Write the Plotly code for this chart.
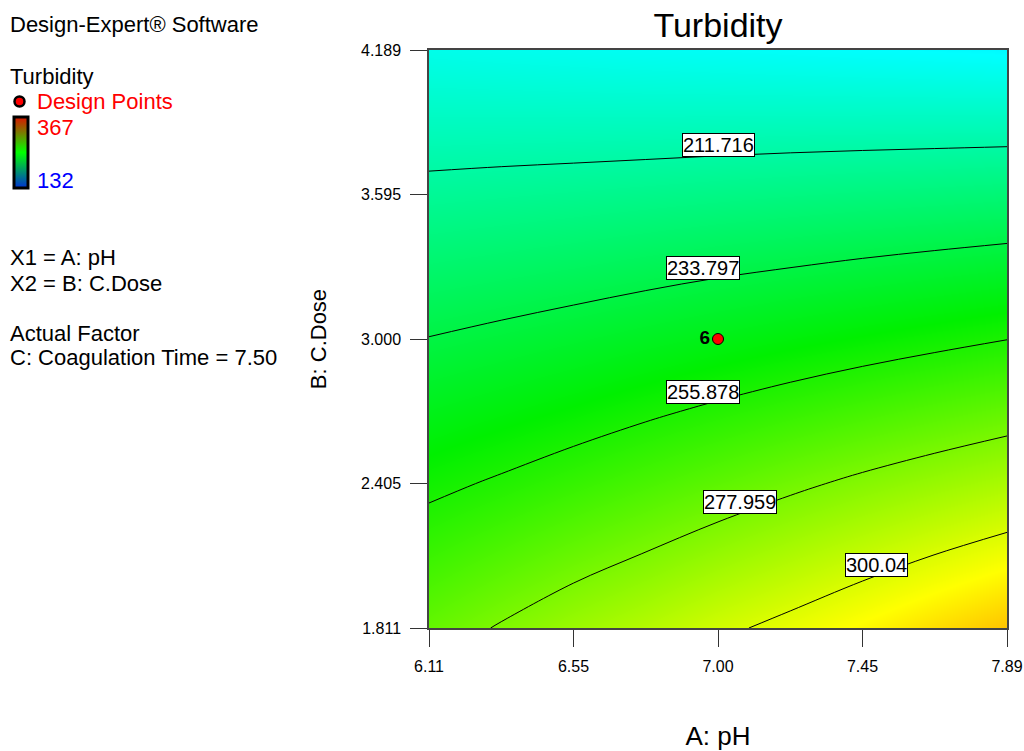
import plotly.graph_objects as go

# ---------------- data ----------------
ph_vals = [6.11, 6.3325, 6.555, 6.7775, 7.0, 7.2225, 7.445, 7.6675, 7.89]   # A: pH
dose_vals = [1.811, 2.108, 2.405, 2.7025, 3.0, 3.2975, 3.595, 3.8925, 4.189]  # B: C.Dose
# Turbidity; rows follow dose_vals, columns follow ph_vals
turbidity = [
    [272.5, 278.9, 285.3, 291.1, 297.6, 303.3, 309.6, 316.0, 322.0],
    [262.9, 268.1, 273.5, 278.6, 284.2, 289.5, 294.9, 300.3, 305.4],
    [253.3, 257.3, 261.8, 266.3, 270.9, 275.7, 280.3, 284.6, 288.9],
    [243.7, 246.9, 250.3, 254.1, 257.8, 261.5, 265.2, 268.8, 272.3],
    [234.1, 236.5, 239.1, 241.9, 244.7, 247.5, 250.2, 252.9, 255.7],
    [224.5, 226.1, 227.8, 229.8, 231.8, 233.6, 235.5, 237.3, 239.1],
    [214.8, 215.7, 216.6, 217.6, 218.7, 219.7, 220.7, 221.6, 222.6],
    [205.2, 205.3, 205.3, 205.4, 205.6, 205.8, 205.9, 206.0, 206.1],
    [195.6, 194.8, 194.1, 193.3, 192.6, 191.8, 191.05, 190.3, 189.6],
]
contour_levels = [211.716, 233.797, 255.878, 277.959, 300.04]
label_ph = [7.00, 6.953, 6.953, 7.067, 7.488]
label_dose = [3.800, 3.291, 2.780, 2.331, 2.071]
design_ph = [7.00]
design_dose = [3.00]
design_count = ["<b>6</b>"]
z_low, z_high = 132, 367
x_tickvals = [6.11, 6.555, 7.0, 7.445, 7.89]
x_ticktext = ["6.11", "6.55", "7.00", "7.45", "7.89"]
y_tickvals = [1.811, 2.405, 3.0, 3.595, 4.189]
y_ticktext = ["1.811", "2.405", "3.000", "3.595", "4.189"]

# ---------------- layout geometry ----------------
L, R, T, B = 429, 1007, 50, 628
W, H = 1024, 751
FONT = "Liberation Sans, Arial, sans-serif"


def fx(px):
    return (px - L) / (R - L)


def fy(py):
    return (B - py) / (B - T)


de_scale = [
    [0.0, "rgb(0,0,255)"],
    [0.25, "rgb(0,255,255)"],
    [0.5, "rgb(0,240,0)"],
    [0.75, "rgb(255,255,0)"],
    [1.0, "rgb(255,0,0)"],
]
legend_scale = [
    [0.0, "rgb(0,50,210)"],
    [0.5, "rgb(0,255,0)"],
    [1.0, "rgb(220,20,0)"],
]

fig = go.Figure()

fig.add_trace(go.Heatmap(
    x=ph_vals, y=dose_vals, z=turbidity,
    zmin=z_low, zmax=z_high, colorscale=de_scale,
    zsmooth="best", showscale=False, hoverinfo="skip",
))

fig.add_trace(go.Contour(
    x=ph_vals, y=dose_vals, z=turbidity,
    autocontour=False,
    contours=dict(start=contour_levels[0], end=contour_levels[-1],
                  size=contour_levels[1] - contour_levels[0],
                  coloring="none", showlabels=False),
    line=dict(color="black", width=1, smoothing=1.0),
    showscale=False, hoverinfo="skip",
))

fig.add_trace(go.Scatter(
    x=design_ph, y=design_dose, mode="markers+text",
    text=design_count, textposition="middle left",
    textfont=dict(family=FONT, size=19, color="black"),
    marker=dict(size=11, color="red", line=dict(color="black", width=1)),
    showlegend=False, hoverinfo="skip",
))

# legend colour bar (dummy trace carrying the colorbar)
fig.add_trace(go.Scatter(
    x=[None], y=[None], mode="markers", showlegend=False,
    marker=dict(color=[z_low, z_high], cmin=z_low, cmax=z_high,
                colorscale=legend_scale, showscale=True,
                colorbar=dict(
                    x=fx(13.5), xanchor="left", y=fy(117), yanchor="top",
                    thickness=14, thicknessmode="pixels",
                    len=71, lenmode="pixels",
                    outlinewidth=3, outlinecolor="black",
                    xpad=0, ypad=0, showticklabels=False, ticks="",
                )),
))

annotations = []
for lvl, xv, yv in zip(contour_levels, label_ph, label_dose):
    annotations.append(dict(
        x=xv, y=yv, xref="x", yref="y", text=f"{lvl:g}", showarrow=False,
        font=dict(family=FONT, size=20, color="black"),
        bgcolor="white", bordercolor="black", borderwidth=1, borderpad=0,
    ))

left_texts = [
    ("Design-Expert® Software", 8, 25, "black"),
    ("Turbidity", 8, 76, "black"),
    ("Design Points", 35, 101, "red"),
    ("367", 35, 128, "red"),
    ("132", 35, 180, "blue"),
    ("X1 = A: pH", 8, 257, "black"),
    ("X2 = B: C.Dose", 8, 283, "black"),
    ("Actual Factor", 8, 333, "black"),
    ("C: Coagulation Time = 7.50", 8, 358, "black"),
]
for txt, px, py, col in left_texts:
    annotations.append(dict(
        x=fx(px), y=fy(py), xref="paper", yref="paper", text=txt,
        showarrow=False, xanchor="left", yanchor="middle",
        font=dict(family=FONT, size=22, color=col),
    ))

shapes = [
    # design-point glyph in the legend
    dict(type="circle", xref="paper", yref="paper",
         x0=fx(14.5), x1=fx(24.5), y0=fy(106.5), y1=fy(96.5),
         fillcolor="red", line=dict(color="black", width=2.5)),
    # white marker line on legend bar
    dict(type="line", xref="paper", yref="paper",
         x0=fx(16), x1=fx(28), y0=fy(153), y1=fy(153),
         line=dict(color="white", width=2)),
]

axis_common = dict(
    showgrid=False, zeroline=False, ticks="outside", ticklen=17,
    tickwidth=1, tickcolor="#333", showline=True, linecolor="#444",
    linewidth=1.5, mirror=True,
    tickfont=dict(family=FONT, size=16, color="black"),
    ticklabelstandoff=6,
)

fig.update_layout(
    width=W, height=H,
    margin=dict(l=L, r=W - R, t=T, b=H - B, autoexpand=False),
    paper_bgcolor="white", plot_bgcolor="white",
    title=dict(text="Turbidity", x=fx(718), xref="paper", xanchor="center",
               y=1 - 25 / H, yref="container", yanchor="middle",
               font=dict(family=FONT, size=34, color="black")),
    xaxis=dict(range=[ph_vals[0], ph_vals[-1]], tickvals=x_tickvals,
               ticktext=x_ticktext,
               title=dict(text="A: pH", standoff=60,
                          font=dict(family=FONT, size=26, color="black")),
               **axis_common),
    yaxis=dict(range=[dose_vals[0], dose_vals[-1]], tickvals=y_tickvals,
               ticktext=y_ticktext,
               title=dict(text="B: C.Dose", standoff=28,
                          font=dict(family=FONT, size=22, color="black")),
               **axis_common),
    annotations=annotations, shapes=shapes,
    showlegend=False,
)

fig.write_html(
    "out.html",
    config={"displayModeBar": False},
    post_script="document.body.style.margin='0';"
                "document.body.style.overflow='hidden';",
)
